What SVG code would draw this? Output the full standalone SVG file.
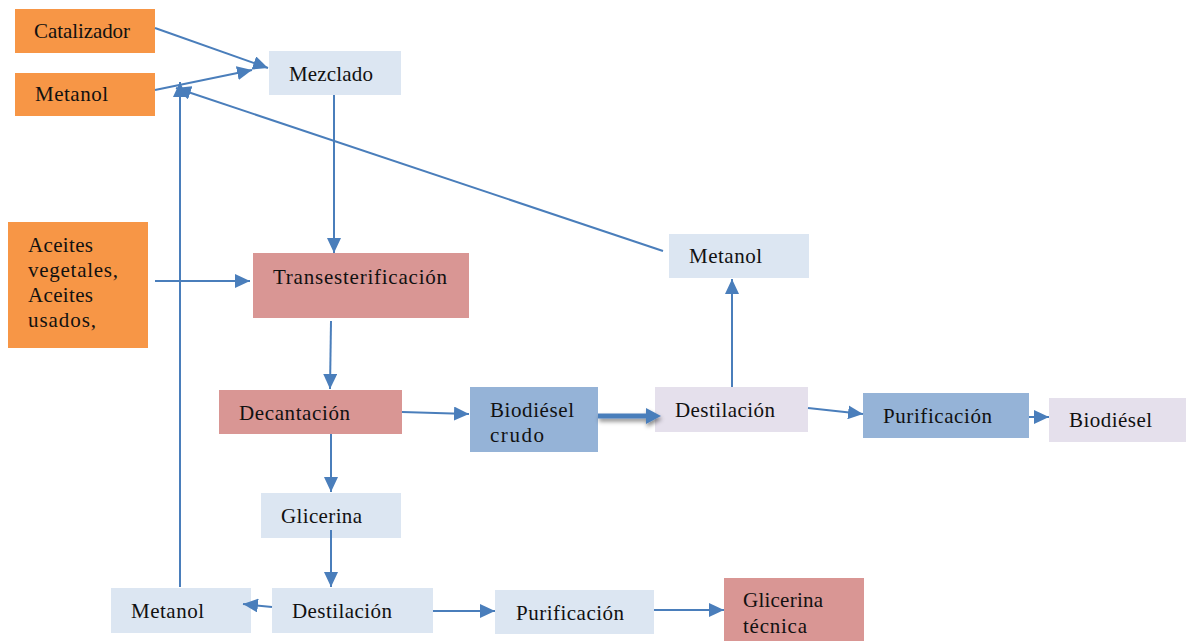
<svg xmlns="http://www.w3.org/2000/svg" width="1186" height="641" viewBox="0 0 1186 641">
  <defs>
    <marker id="arrow" markerUnits="userSpaceOnUse" markerWidth="16" markerHeight="14" refX="15" refY="7" orient="auto">
      <path d="M0,0 L15,7 L0,14 z" fill="#4A7EBB"/>
    </marker>
    <filter id="shadow" x="-20%" y="-100%" width="140%" height="300%">
      <feDropShadow dx="1" dy="3" stdDeviation="2" flood-color="#000" flood-opacity="0.45"/>
    </filter>
  </defs>
  <style>
    text { font-family: "Liberation Serif", "Times New Roman", serif; font-size: 21px; fill: #111; }
    .orange { fill: #F79646; }
    .pale { fill: #DCE6F2; }
    .rose { fill: #D99694; }
    .blue { fill: #95B3D7; }
    .lilac { fill: #E5E0EC; }
    .link { stroke: #4A7EBB; stroke-width: 2; fill: none; marker-end: url(#arrow); }
  </style>

  <rect width="1186" height="641" fill="#fff"/>

  <!-- feed streams -->
  <g id="catalizador">
    <rect class="orange" x="15" y="9" width="140" height="44"/>
    <text x="34" y="38" textLength="96">Catalizador</text>
  </g>
  <g id="metanol-entrada">
    <rect class="orange" x="15" y="73" width="140" height="43"/>
    <text x="35" y="101" textLength="73">Metanol</text>
  </g>
  <g id="aceites">
    <rect class="orange" x="8" y="222" width="140" height="126"/>
    <text x="28" y="252" textLength="65">Aceites</text>
    <text x="28" y="277" textLength="90">vegetales,</text>
    <text x="28" y="302" textLength="65">Aceites</text>
    <text x="28" y="327" textLength="68">usados,</text>
  </g>

  <!-- main process -->
  <g id="mezclado">
    <rect class="pale" x="269" y="51" width="132" height="44"/>
    <text x="289" y="81" textLength="84">Mezclado</text>
  </g>
  <g id="transesterificacion">
    <rect class="rose" x="253" y="253" width="216" height="65"/>
    <text x="273" y="284" textLength="174">Transesterificación</text>
  </g>
  <g id="decantacion">
    <rect class="rose" x="219" y="390" width="183" height="44"/>
    <text x="239" y="420" textLength="111">Decantación</text>
  </g>

  <!-- biodiesel line -->
  <g id="biodiesel-crudo">
    <rect class="blue" x="470" y="387" width="128" height="65"/>
    <text x="490" y="417" textLength="84">Biodiésel</text>
    <text x="490" y="442" textLength="54">crudo</text>
  </g>
  <g id="destilacion-biodiesel">
    <rect class="lilac" x="655" y="387" width="153" height="45"/>
    <text x="675" y="417" textLength="100">Destilación</text>
  </g>
  <g id="metanol-recuperado">
    <rect class="pale" x="669" y="234" width="140" height="44"/>
    <text x="689" y="263" textLength="73">Metanol</text>
  </g>
  <g id="purificacion-biodiesel">
    <rect class="blue" x="863" y="393" width="166" height="45"/>
    <text x="883" y="423" textLength="109">Purificación</text>
  </g>
  <g id="biodiesel">
    <rect class="lilac" x="1049" y="398" width="137" height="44"/>
    <text x="1069" y="427" textLength="83">Biodiésel</text>
  </g>

  <!-- glycerol line -->
  <g id="glicerina">
    <rect class="pale" x="261" y="493" width="140" height="45"/>
    <text x="281" y="523" textLength="81">Glicerina</text>
  </g>
  <g id="destilacion-glicerina">
    <rect class="pale" x="272" y="588" width="161" height="45"/>
    <text x="292" y="618" textLength="100">Destilación</text>
  </g>
  <g id="metanol-glicerina">
    <rect class="pale" x="111" y="588" width="140" height="45"/>
    <text x="131" y="618" textLength="73">Metanol</text>
  </g>
  <g id="purificacion-glicerina">
    <rect class="pale" x="495" y="590" width="159" height="44"/>
    <text x="516" y="620" textLength="108">Purificación</text>
  </g>
  <g id="glicerina-tecnica">
    <rect class="rose" x="724" y="578" width="140" height="63"/>
    <text x="743" y="607" textLength="80">Glicerina</text>
    <text x="743" y="633" textLength="64">técnica</text>
  </g>

  <!-- connectors, drawn over the boxes -->
  <g id="connectors">
    <line class="link" x1="155" y1="28" x2="268" y2="68"/>
    <line class="link" x1="155" y1="90" x2="252" y2="70"/>
    <line class="link" x1="663" y1="251" x2="176" y2="88"/>
    <line class="link" x1="180" y1="587" x2="180" y2="82"/>
    <line class="link" x1="334" y1="95" x2="334" y2="253"/>
    <line class="link" x1="155" y1="281" x2="250" y2="281"/>
    <line class="link" x1="331" y1="321" x2="330" y2="389"/>
    <line class="link" x1="402" y1="412" x2="469" y2="414"/>
    <g filter="url(#shadow)">
      <line x1="598" y1="416" x2="648" y2="416" stroke="#4A7EBB" stroke-width="5"/>
      <path d="M646,408 L661,416 L646,424 z" fill="#4A7EBB"/>
    </g>
    <line class="link" x1="732" y1="387" x2="732" y2="279"/>
    <line class="link" x1="808" y1="408" x2="863" y2="414"/>
    <line class="link" x1="1029" y1="417" x2="1049" y2="417"/>
    <line class="link" x1="331" y1="434" x2="331" y2="492"/>
    <line class="link" x1="331" y1="530" x2="331" y2="587"/>
    <line class="link" x1="272" y1="607" x2="243" y2="604"/>
    <line class="link" x1="433" y1="611" x2="495" y2="611"/>
    <line class="link" x1="654" y1="610" x2="724" y2="610"/>
  </g>
</svg>
